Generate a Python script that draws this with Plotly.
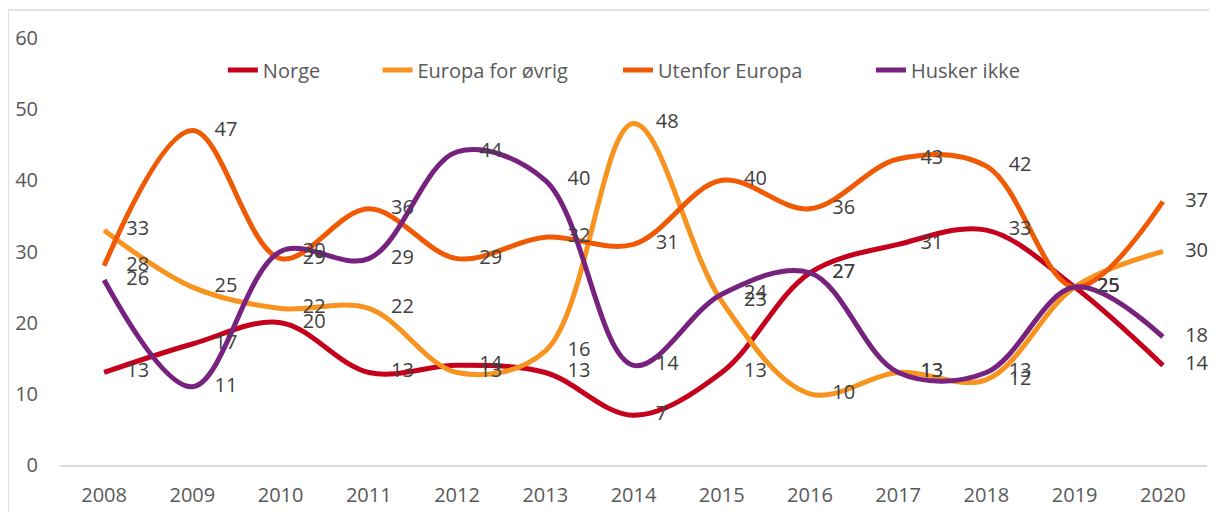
import plotly.graph_objects as go

years = ["2008", "2009", "2010", "2011", "2012", "2013", "2014",
         "2015", "2016", "2017", "2018", "2019", "2020"]
norge = [13, 17, 20, 13, 14, 13, 7, 13, 27, 31, 33, 25, 14]
europa = [33, 25, 22, 22, 13, 16, 48, 23, 10, 13, 12, 25, 30]
utenfor = [28, 47, 29, 36, 29, 32, 31, 40, 36, 43, 42, 25, 37]
husker = [26, 11, 30, 29, 44, 40, 14, 24, 27, 13, 13, 25, 18]
y_ticks = [0, 10, 20, 30, 40, 50, 60]

series = [
    ("Norge", norge, "#C5001C", "legend", 0.1420),
    ("Europa for øvrig", europa, "#F7931E", "legend2", 0.2768),
    ("Utenfor Europa", utenfor, "#F05A05", "legend3", 0.4865),
    ("Husker ikke", husker, "#77227E", "legend4", 0.7070),
]

FONT = "Open Sans, Lato, sans-serif"
fig = go.Figure()
legends = {}
for name, vals, col, leg, lx in series:
    fig.add_trace(go.Scatter(
        x=years, y=vals, name=name, mode="lines", legend=leg,
        line=dict(color=col, width=5, shape="spline", smoothing=1.0),
        hoverinfo="x+y+name",
    ))
    legends[leg] = dict(orientation="h", x=lx, y=0.925, xanchor="left", yanchor="middle",
                        font=dict(family=FONT, size=20, color="#595959"),
                        bgcolor="rgba(0,0,0,0)")
for name, vals, col, leg, lx in series:
    fig.add_trace(go.Scatter(
        x=years, y=vals, name=name, mode="markers+text", showlegend=False,
        marker=dict(size=34, opacity=0, color=col),
        text=[str(v) for v in vals], textposition="middle right",
        textfont=dict(family=FONT, size=20, color="#404040"),
        cliponaxis=False, hoverinfo="skip",
    ))

fig.update_layout(
    width=1209, height=505,
    margin=dict(l=52, r=10, t=30, b=48),
    paper_bgcolor="white", plot_bgcolor="white",
    font=dict(family=FONT, size=20, color="#595959"),
    showlegend=True,
    shapes=[dict(type="rect", xref="paper", yref="paper",
                 x0=-0.0453, x1=1.05, y0=-0.3, y1=1.0656,
                 line=dict(color="#D9D9D9", width=1.5), fillcolor="rgba(0,0,0,0)", layer="below")],
    **legends,
)
fig.update_xaxes(type="category", range=[-0.5, 12.5], showgrid=False, automargin=False,
                 showline=True, linecolor="#D9D9D9", linewidth=2,
                 ticks="", ticklabelstandoff=11,
                 tickfont=dict(family=FONT, size=20, color="#595959"))
fig.update_yaxes(range=[0, 60], tickvals=y_ticks, showgrid=False, zeroline=False, automargin=False,
                 showline=False, ticks="", ticklabelstandoff=21,
                 tickfont=dict(family=FONT, size=20, color="#595959"))

fig.write_html("out.html")
